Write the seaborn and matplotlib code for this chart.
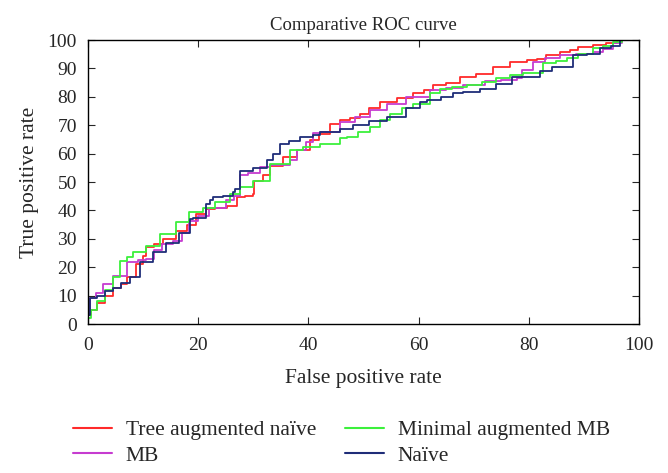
import numpy as np
import pandas as pd
import matplotlib
matplotlib.use('Agg')
import matplotlib.pyplot as plt
import seaborn as sns

# ROC points (false positive rate %, true positive rate %)
tan_fpr = [0, 0.5, 1.6, 3, 4.6, 6, 7, 8.8, 10, 10.6, 12, 13.6, 16, 18, 19.6, 21.5, 23, 25.2, 27, 28.5,
           30, 30.2, 31.8, 33, 35.4, 37.9, 40.3, 42, 43.9, 45.7, 47.5, 49.4, 51, 53, 56, 59, 61, 62.6,
           65, 67.5, 70.5, 73.5, 76.6, 79.6, 81.5, 83.2, 85.7, 87.5, 89, 91.7, 94, 96, 100]
tan_tpr = [3, 5, 7.5, 10, 12.8, 14, 16.4, 21, 24, 27, 28, 30, 32.9, 35, 38.8, 40.6, 41, 41.7, 44.7, 45,
           45.8, 50.5, 52.3, 55.8, 58.8, 61.1, 64.7, 67, 70.6, 71.7, 72.5, 74, 76, 78.2, 79.5, 81.2, 82.5, 84.1,
           85, 87, 88.2, 90.6, 92.3, 92.9, 93.3, 94.7, 95.9, 96.5, 97.5, 98.2, 99, 100, 100]

mb_fpr = [0, 0.3, 1.5, 2.7, 4.6, 7, 9, 10.6, 12, 13.5, 15.4, 17, 18.4, 20, 22, 25, 26.5, 27.6, 29,
          31.2, 33, 36.7, 37.9, 39.5, 40.8, 42.1, 45.7, 48.5, 51.2, 54.2, 57.8, 62.1, 65, 68.1, 72, 75,
          77.8, 78.7, 80.8, 83, 85.7, 88.5, 91.7, 93.5, 95.3, 97, 100]
mb_tpr = [3.5, 9.3, 11, 14, 17, 21.7, 22.5, 22.8, 26, 28, 29.3, 32, 36.4, 38, 41, 43.5, 45, 52.3, 53,
          55.2, 56, 57.6, 61.1, 64, 67.1, 67.6, 71.1, 73, 75.3, 77.6, 80, 82.3, 83, 84.1, 85.5, 86,
          86.5, 89.4, 92.3, 93.5, 94.7, 95, 95.9, 97, 98.9, 100, 100]

mamb_fpr = [0, 0.5, 1.6, 3, 4.6, 5.8, 7, 8.2, 10.6, 13, 16, 18.4, 20.8, 23, 25.8, 27.6, 30, 33, 36.7,
            39, 42.1, 45.7, 47, 49, 51.2, 53, 54.8, 57, 59, 62.1, 63.9, 66, 68.7, 71.5, 74, 76.6, 79,
            82.6, 85, 86.9, 89, 91.7, 93.5, 95.3, 97, 100]
mamb_tpr = [2.2, 5, 8.1, 12, 16.4, 22.3, 23.5, 25.2, 27.6, 31.7, 35.8, 39.3, 41, 43, 45.8, 48.2, 50.5, 56.5, 61.1,
            62.3, 63.5, 65.4, 65.8, 67.5, 69.4, 71.7, 74.1, 76, 77.6, 81.2, 82.9, 83.5, 84.1, 85.3, 86.5, 87.6, 88.5,
            91.8, 92.5, 93.5, 95, 97.1, 98, 99.4, 100, 100]

nb_fpr = [0, 0.3, 1.6, 3, 4.6, 6, 7.6, 9.4, 11.8, 14.2, 16.6, 18.5, 19, 21.5, 22.1, 22.7, 24.5, 26.3,
          26.7, 27.6, 30, 32.4, 33.5, 34.8, 36.5, 38.5, 40.8, 42.1, 45.7, 48.1, 51, 54.2, 57.8, 60.2,
          61.5, 64, 66.2, 68, 71.1, 74, 77, 79.6, 82, 84.3, 86.9, 88, 90.6, 92.9, 95, 96.5, 100]
nb_tpr = [3, 9.3, 10, 11.5, 12.8, 14.5, 16.4, 21.7, 25.2, 28.7, 32, 37, 37.5, 42.4, 43.5, 44.7, 45.2, 46.5,
          47.6, 54, 55, 57.6, 60, 63.5, 64.5, 65.8, 66.4, 67.6, 68.8, 70, 71.5, 72.9, 75.9, 78.2,
          78.8, 80, 81.2, 81.8, 82.9, 84.5, 87, 87.1, 89, 90.6, 90.6, 94.7, 95, 97.1, 98, 100, 100]

labels = ['Tree augmented naïve', 'MB', 'Minimal augmented MB', 'Naïve']
colors = ['#ff2a2a', '#c63cd0', '#3cf03c', '#1f2d78']

frames = []
for lab, fx, fy in zip(labels, [tan_fpr, mb_fpr, mamb_fpr, nb_fpr], [tan_tpr, mb_tpr, mamb_tpr, nb_tpr]):
    frames.append(pd.DataFrame({'fpr': fx, 'tpr': fy, 'model': lab}))
df = pd.concat(frames, ignore_index=True)

sns.set_style('ticks')
plt.rcParams['font.family'] = ['Liberation Serif', 'DejaVu Serif']

fig = plt.figure(figsize=(6.68, 4.73), dpi=100)
ax = fig.add_axes([0.1317, 0.3150, 0.8249, 0.6004])

sns.lineplot(data=df, x='fpr', y='tpr', hue='model', hue_order=labels,
             palette=dict(zip(labels, colors)), estimator=None, sort=False,
             drawstyle='steps-post', linewidth=1.3, ax=ax, legend=False)

ax.set_xlim(0, 100)
ax.set_ylim(0, 100)
ax.set_xticks(range(0, 101, 20))
ax.set_yticks(range(0, 101, 10))
ax.tick_params(direction='in', top=True, right=True, labelsize=14, length=5, width=0.8)
ax.tick_params(axis='x', pad=9)
ax.tick_params(axis='y', pad=8)
for sp in ax.spines.values():
    sp.set_linewidth(1.0)
    sp.set_color('black')

ax.set_title('Comparative ROC curve', fontsize=13.5, pad=7)
ax.set_xlabel('False positive rate', fontsize=15.5, labelpad=11)
ax.set_ylabel('True positive rate', fontsize=15.5, labelpad=6)

handles = [plt.Line2D([], [], color=c, linewidth=1.5) for c in colors]
fig.legend(handles, labels, ncol=2, loc='upper left', bbox_to_anchor=(73 / 668, 1 - 420 / 473),
           frameon=False, prop={'family': ['Liberation Serif'], 'size': 15.5},
           handlelength=1.8, handletextpad=0.65, columnspacing=1.35,
           labelspacing=0.25, borderpad=0, borderaxespad=0)

fig.savefig('out.png', dpi=100)
